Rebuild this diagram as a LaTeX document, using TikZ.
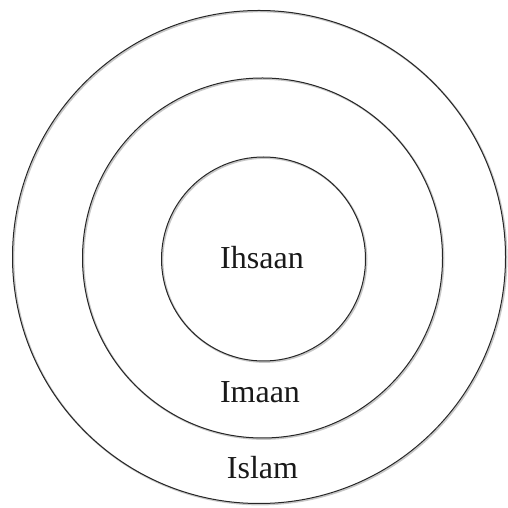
\documentclass[tikz,border=0pt]{standalone}
\usepackage{fontspec}
\setmainfont{Liberation Serif}
\begin{document}
\begin{tikzpicture}[x=1pt,y=1pt,
  ring/.style={circle, draw=black!85, line width=1pt, inner sep=0pt, fill=none},
  ringshadow/.style={circle, draw=black!22, line width=1.8pt, inner sep=0pt},
  label/.style={font=\fontsize{32}{36}\selectfont, text=black!90, anchor=base, inner sep=0pt}]
\useasboundingbox (0,0) rectangle (507,508);
% shadows
\node[ringshadow, minimum size=493pt] (outerS) at (260,250) {};
\node[ringshadow, minimum size=360pt] (midS) at (263.5,249) {};
\node[ringshadow, minimum size=204pt] (innerS) at (264.5,248) {};
% rings
\node[ring, minimum size=493pt] (outer) at (259,251) {};
\node[ring, minimum size=360pt] (mid) at (262.5,250) {};
\node[ring, minimum size=204pt] (inner) at (263.5,249) {};
% labels
\node[label] (ihsaan) at (262,239) {Ihsaan};
\node[label] (imaan) at (260,105) {Imaan};
\node[label] (islam) at (262.5,29) {Islam};
\end{tikzpicture}
\end{document}
